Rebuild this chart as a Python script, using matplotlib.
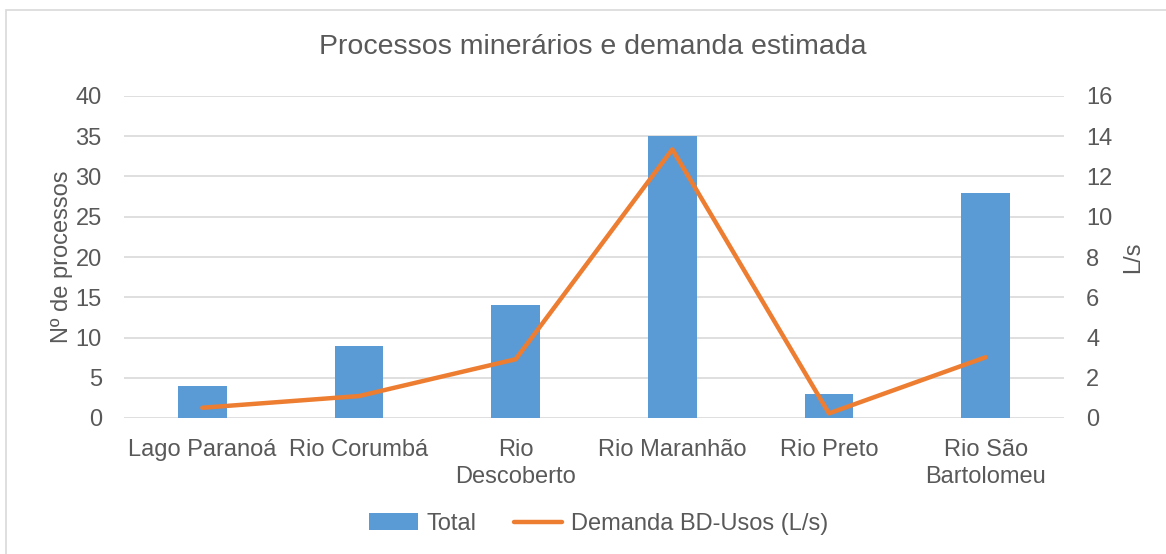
import matplotlib
matplotlib.use("Agg")
import matplotlib.pyplot as plt
from matplotlib.patches import Rectangle

plt.rcParams['font.family'] = ['Liberation Sans', 'DejaVu Sans']

categories = ["Lago Paranoá", "Rio Corumbá", "Rio\nDescoberto", "Rio Maranhão", "Rio Preto", "Rio São\nBartolomeu"]
total = [4, 9, 14, 35, 3, 28]
demanda = [0.51, 1.09, 2.92, 13.35, 0.23, 3.02]
left_ticks = [0, 5, 10, 15, 20, 25, 30, 35, 40]
right_ticks = [0, 2, 4, 6, 8, 10, 12, 14, 16]

txt = '#595959'
fs = 17
fig = plt.figure(figsize=(11.66, 5.54), dpi=100)
fig.patches.append(Rectangle((6/1166, -0.01), 1.2, 1 - 10/554 + 0.01, transform=fig.transFigure,
                             fill=False, edgecolor='#d9d9d9', linewidth=1.2))
ax = fig.add_axes([124/1166, 1-418/554, (1064-124)/1166, (418-96)/554])
x = list(range(len(categories)))
bars = ax.bar(x, total, width=0.312, color='#5B9BD5', zorder=2, label='Total')
ax.set_ylim(0, 40)
ax.set_yticks(left_ticks)
ax.set_xlim(-0.5, len(categories)-0.5)
ax.set_xticks(x)
ax.set_xticklabels(categories, fontsize=fs, color=txt, linespacing=1.3)
ax.tick_params(axis='both', length=0, labelsize=fs, labelcolor=txt)
ax.tick_params(axis='x', pad=15)
ax.tick_params(axis='y', pad=16)
ax.grid(axis='y', color='#d9d9d9', linewidth=1.2, zorder=0)
for s in ax.spines.values():
    s.set_visible(False)
ax.set_ylabel('Nº de processos', fontsize=fs, color=txt, labelpad=2)

ax2 = ax.twinx()
line, = ax2.plot(x, demanda, color='#ED7D31', linewidth=3.2, solid_capstyle='round', zorder=3,
                 label='Demanda BD-Usos (L/s)')
ax2.set_ylim(0, 16)
ax2.set_yticks(right_ticks)
ax2.tick_params(axis='y', length=0, labelsize=fs, labelcolor=txt, pad=16)
for s in ax2.spines.values():
    s.set_visible(False)
ax2.set_ylabel('L/s', fontsize=fs, color=txt, labelpad=7)

fig.text(593/1166, 1-47/554, 'Processos minerários e demanda estimada', ha='center', va='center',
         fontsize=20.5, color=txt)
fig.legend([bars, line], ['Total', 'Demanda BD-Usos (L/s)'], loc='center',
           bbox_to_anchor=(599/1166, 1-524/554), ncol=2, frameon=False, fontsize=fs,
           labelcolor=txt, handlelength=2.05, handletextpad=0.38, columnspacing=1.57)
fig.savefig('out.png', dpi=100)
